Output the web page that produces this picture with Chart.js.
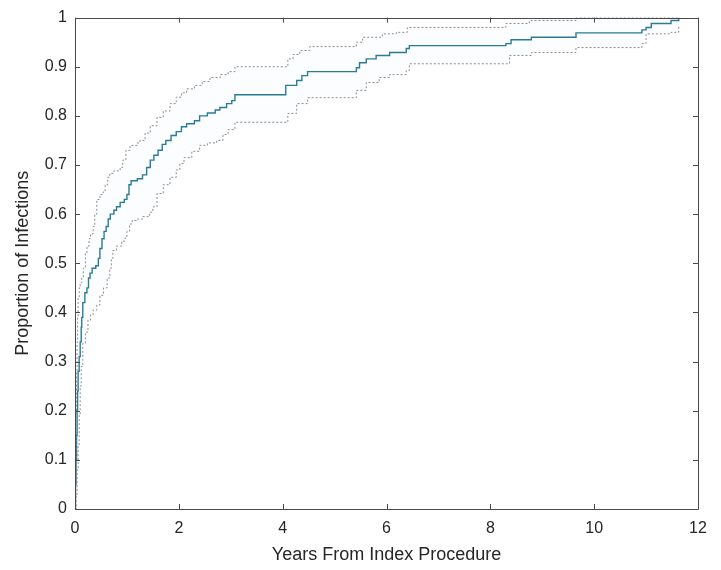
<!DOCTYPE html>
<html>
<head>
<meta charset="utf-8">
<script src="https://cdn.jsdelivr.net/npm/chart.js@4"></script>
<style>
  html, body { margin: 0; padding: 0; background: #ffffff; }
  #wrap { width: 721px; height: 570px; }
</style>
</head>
<body>
<div id="wrap"><canvas id="incidenceChart" width="721" height="570"></canvas></div>
<script>
// Cumulative incidence estimate (step function)
const mainYears = [0, 0.01, 0.02, 0.03, 0.04, 0.05, 0.06, 0.08, 0.1, 0.12, 0.13, 0.15, 0.19, 0.23, 0.26, 0.29, 0.33, 0.4, 0.45, 0.48, 0.52, 0.56, 0.6, 0.64, 0.68, 0.75, 0.8, 0.87, 0.95, 1.0, 1.04, 1.08, 1.2, 1.3, 1.38, 1.45, 1.52, 1.6, 1.68, 1.75, 1.85, 1.95, 2.05, 2.15, 2.3, 2.4, 2.55, 2.7, 2.79, 2.92, 3.02, 3.08, 4.06, 4.27, 4.37, 4.48, 5.42, 5.48, 5.61, 5.8, 6.06, 6.38, 6.44, 8.3, 8.4, 8.79, 9.65, 10.92, 11.0, 11.1, 11.48, 11.63];
const mainProp = [0, 0.05, 0.1, 0.15, 0.2, 0.24, 0.28, 0.31, 0.34, 0.37, 0.39, 0.42, 0.44, 0.45, 0.47, 0.48, 0.49, 0.495, 0.51, 0.53, 0.55, 0.565, 0.575, 0.59, 0.6, 0.608, 0.615, 0.624, 0.63, 0.64, 0.66, 0.668, 0.672, 0.68, 0.695, 0.71, 0.72, 0.73, 0.742, 0.75, 0.76, 0.768, 0.778, 0.784, 0.79, 0.8, 0.806, 0.812, 0.817, 0.825, 0.831, 0.843, 0.862, 0.872, 0.882, 0.89, 0.898, 0.908, 0.916, 0.923, 0.929, 0.937, 0.943, 0.947, 0.955, 0.96, 0.969, 0.975, 0.98, 0.988, 0.994, 1.0];

// Upper confidence bound
const upperYears = [0, 0.01, 0.02, 0.03, 0.04, 0.05, 0.06, 0.08, 0.1, 0.13, 0.16, 0.2, 0.23, 0.27, 0.3, 0.35, 0.38, 0.42, 0.48, 0.54, 0.58, 0.63, 0.67, 0.75, 0.87, 0.92, 0.98, 1.06, 1.2, 1.25, 1.35, 1.45, 1.58, 1.7, 1.83, 1.95, 2.05, 2.15, 2.3, 2.45, 2.6, 2.8, 2.95, 3.08, 4.1, 4.2, 4.33, 4.52, 5.42, 5.54, 5.92, 6.19, 6.4, 8.3, 8.75, 9.65, 11.63];
const upperProp = [0, 0.1, 0.2, 0.28, 0.34, 0.39, 0.43, 0.45, 0.46, 0.47, 0.49, 0.52, 0.535, 0.55, 0.56, 0.575, 0.6, 0.63, 0.64, 0.645, 0.66, 0.675, 0.683, 0.688, 0.695, 0.71, 0.73, 0.74, 0.745, 0.75, 0.765, 0.78, 0.797, 0.81, 0.825, 0.838, 0.847, 0.855, 0.862, 0.87, 0.878, 0.884, 0.89, 0.9, 0.916, 0.925, 0.933, 0.941, 0.95, 0.96, 0.967, 0.97, 0.98, 0.988, 0.994, 1.0, 1.0];

// Lower confidence bound
const lowerYears = [0, 0.02, 0.04, 0.06, 0.08, 0.1, 0.12, 0.15, 0.2, 0.25, 0.3, 0.35, 0.42, 0.48, 0.55, 0.62, 0.67, 0.7, 0.73, 0.8, 0.9, 0.96, 1.0, 1.05, 1.1, 1.2, 1.3, 1.44, 1.5, 1.58, 1.7, 1.83, 1.95, 2.02, 2.1, 2.25, 2.4, 2.55, 2.73, 2.85, 2.95, 3.08, 4.1, 4.27, 4.48, 5.42, 5.61, 5.86, 6.06, 6.38, 6.44, 8.37, 8.79, 9.65, 10.92, 11.0, 11.48, 11.63];
const lowerProp = [0, 0.03, 0.08, 0.13, 0.19, 0.25, 0.29, 0.337, 0.36, 0.384, 0.395, 0.405, 0.415, 0.435, 0.45, 0.47, 0.49, 0.51, 0.526, 0.535, 0.545, 0.551, 0.565, 0.58, 0.587, 0.59, 0.595, 0.604, 0.615, 0.642, 0.66, 0.675, 0.69, 0.703, 0.715, 0.728, 0.74, 0.745, 0.75, 0.762, 0.772, 0.787, 0.805, 0.825, 0.837, 0.852, 0.868, 0.878, 0.884, 0.892, 0.906, 0.923, 0.929, 0.939, 0.947, 0.967, 0.97, 0.984];

// Axis ticks
const xTicks = [0, 2, 4, 6, 8, 10, 12];
const yTicks = [0, 0.1, 0.2, 0.3, 0.4, 0.5, 0.6, 0.7, 0.8, 0.9, 1];

const toPoints = (xs, ys) => xs.map((x, i) => ({ x: x, y: ys[i] }));

const fontFamily = "'Liberation Sans', Arial, Helvetica, sans-serif";
const axisColor = "#262626";

// Draws the MATLAB-style box and inward tick marks
const boxAxes = {
  id: "boxAxes",
  afterDraw(chart) {
    const { ctx, chartArea: a, scales } = chart;
    const len = 5;
    ctx.save();
    ctx.strokeStyle = "#4a4a4a";
    ctx.lineWidth = 1;
    ctx.beginPath();
    ctx.rect(Math.round(a.left) + 0.5, Math.round(a.top) + 0.5, Math.round(a.right - a.left), Math.round(a.bottom - a.top));
    xTicks.forEach((v) => {
      const px = Math.round(scales.x.getPixelForValue(v)) + 0.5;
      ctx.moveTo(px, a.bottom);
      ctx.lineTo(px, a.bottom - len);
      ctx.moveTo(px, a.top);
      ctx.lineTo(px, a.top + len);
    });
    yTicks.forEach((v) => {
      const py = Math.round(scales.y.getPixelForValue(v)) + 0.5;
      ctx.moveTo(a.left, py);
      ctx.lineTo(a.left + len, py);
      ctx.moveTo(a.right, py);
      ctx.lineTo(a.right - len, py);
    });
    ctx.stroke();
    ctx.restore();
  },
};

// Chart.js "before": rise at the event time, then hold the value
const stepMode = "before";

const ctx = document.getElementById("incidenceChart").getContext("2d");
new Chart(ctx, {
  type: "line",
  data: {
    datasets: [
      {
        label: "Upper bound",
        data: toPoints(upperYears, upperProp),
        borderColor: "#8c8c8c",
        borderWidth: 1,
        borderDash: [2, 2],
        stepped: stepMode,
        pointRadius: 0,
        fill: false,
      },
      {
        label: "Lower bound",
        data: toPoints(lowerYears, lowerProp),
        borderColor: "#8c8c8c",
        borderWidth: 1,
        borderDash: [2, 2],
        stepped: stepMode,
        pointRadius: 0,
        fill: { target: 0 },
        backgroundColor: "rgba(0, 114, 189, 0.015)",
      },
      {
        label: "Proportion of Infections",
        data: toPoints(mainYears, mainProp),
        borderColor: "#2b7b96",
        borderWidth: 1.4,
        stepped: stepMode,
        pointRadius: 0,
        fill: false,
      },
    ],
  },
  options: {
    responsive: false,
    animation: false,
    events: [],
    layout: { padding: { top: 17, right: 23, left: 0, bottom: 0 } },
    plugins: {
      legend: { display: false },
      tooltip: { enabled: false },
    },
    scales: {
      x: {
        type: "linear",
        min: 0,
        max: 12,
        afterBuildTicks: (s) => { s.ticks = xTicks.map((v) => ({ value: v })); },
        afterFit: (s) => { s.height = 61; },
        grid: { display: false, drawTicks: false },
        border: { display: false },
        ticks: {
          padding: 10,
          maxRotation: 0,
          color: axisColor,
          font: { family: fontFamily, size: 16 },
        },
        title: {
          display: true,
          text: "Years From Index Procedure",
          color: axisColor,
          font: { family: fontFamily, size: 18 },
          padding: { top: 0, bottom: 4 },
        },
      },
      y: {
        type: "linear",
        min: 0,
        max: 1,
        afterBuildTicks: (s) => { s.ticks = yTicks.map((v) => ({ value: v })); },
        afterFit: (s) => { s.width = 75; },
        grid: { display: false, drawTicks: false },
        border: { display: false },
        ticks: {
          padding: 8,
          color: axisColor,
          font: { family: fontFamily, size: 16 },
          callback: (v) => String(v),
        },
        title: {
          display: true,
          text: "Proportion of Infections",
          color: axisColor,
          font: { family: fontFamily, size: 18 },
          padding: { top: 12, bottom: 0 },
        },
      },
    },
  },
  plugins: [boxAxes],
});
</script>
</body>
</html>
